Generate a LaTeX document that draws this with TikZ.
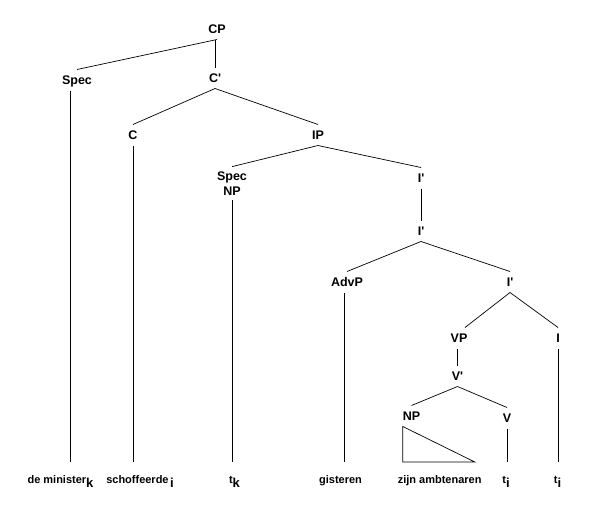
\documentclass[tikz,border=0pt]{standalone}
\usepackage{fontspec}
\setmainfont{Liberation Sans}
\usetikzlibrary{calc}
\newcommand{\tracesub}[1]{\raisebox{-4pt}{\fontsize{13}{13}\selectfont\bfseries #1}}
\newcommand{\barmark}{\textquotesingle}

\begin{document}
\begin{tikzpicture}[
    x=1pt, y=-1pt,
    cat/.style={
      font=\fontsize{12.5}{15}\selectfont\bfseries,
      inner sep=0pt, outer sep=6pt, text height=9pt, text depth=0pt
    },
    catstack/.style={
      font=\fontsize{12.5}{15}\selectfont\bfseries,
      inner sep=0pt, outer sep=5pt, align=center
    },
    leaf/.style={
      font=\fontsize{11}{13}\selectfont\bfseries, anchor=base,
      inner sep=0pt, outer xsep=0pt, outer ysep=11pt,
      text height=10pt, text depth=0pt
    },
    edge/.style={line width=0.7pt}
  ]
    \useasboundingbox (0,0) rectangle (598,512);

    % Top of the tree
    \node[cat] (cp) at (217,29) {CP};
    \node[cat] (spec) at (77,80) {Spec};
    \node[cat] (cbar) at (215,78) {C\barmark};
    \node[cat] (c) at (133,135) {C};
    \node[cat] (ip) at (318,135) {IP};

    % IP level
    \node[catstack] (specnp) at (232,183.5) {Spec\\NP};
    \node[cat] (ibara) at (421,178) {I\barmark};
    \node[cat] (ibarb) at (421,231) {I\barmark};
    \node[cat] (advp) at (347,282) {AdvP};
    \node[cat] (ibarc) at (510,282) {I\barmark};

    % VP level
    \node[cat] (vp) at (459,338) {VP};
    \node[cat] (infl) at (558,338) {I};
    \node[cat] (vbar) at (457.5,376) {V\barmark};
    \node[cat] (np) at (411.5,416) {NP};
    \node[cat] (verb) at (507,418) {V};

    % Terminal strings
    \node[leaf] (minister) at (60.5,483) {de minister\tracesub{k}};
    \node[leaf] (schoffeerde) at (140,483) {schoffeerde\hspace{1.5pt}\tracesub{i}};
    \node[leaf] (tk) at (234.5,483) {t\tracesub{k}};
    \node[leaf] (gisteren) at (340.5,483) {gisteren};
    \node[leaf] (zijn) at (439.7,483) {zijn ambtenaren};
    \node[leaf] (tia) at (506,483) {t\tracesub{i}};
    \node[leaf] (tib) at (557.5,483) {t\tracesub{i}};

    % Branches
    \draw[edge] (cp.south) -- (spec.north);
    \draw[edge] (cbar.north) -- (cbar.north |- cp.south);
    \draw[edge] (cbar.south) -- (c.north);
    \draw[edge] (cbar.south) -- (ip.north);
    \draw[edge] (ip.south) -- (specnp.north);
    \draw[edge] (ip.south) -- (ibara.north);
    \draw[edge] (ibara.south) -- (ibarb.north);
    \draw[edge] (ibarb.south) -- (advp.north);
    \draw[edge] (ibarb.south) -- (ibarc.north);
    \draw[edge] (ibarc.south) -- ([xshift=6pt]vp.north);
    \draw[edge] (ibarc.south) -- (infl.north);
    \draw[edge] (vbar.north) -- (vbar.north |- vp.south);
    \draw[edge] (vbar.south) -- (np.north);
    \draw[edge] (vbar.south) -- (verb.north);

    % Down to the terminals
    \draw[edge] ([xshift=-7pt]spec.south) -- ([xshift=-7pt]spec.south |- minister.north);
    \draw[edge] (c.south) -- (c.south |- schoffeerde.north);
    \draw[edge] (specnp.south) -- (specnp.south |- tk.north);
    \draw[edge] ([xshift=3.5pt]gisteren.north) -- ([xshift=3.5pt]gisteren.north |- advp.south);
    \draw[edge] (verb.south) -- (verb.south |- tia.north);
    \draw[edge] (infl.south) -- (infl.south |- tib.north);

    % Roof over the NP
    \draw[edge] ([xshift=6pt]np.south west)
      -- ([xshift=6pt]np.south west |- zijn.north) -- ++(72,0) -- cycle;
  \end{tikzpicture}
\end{document}
